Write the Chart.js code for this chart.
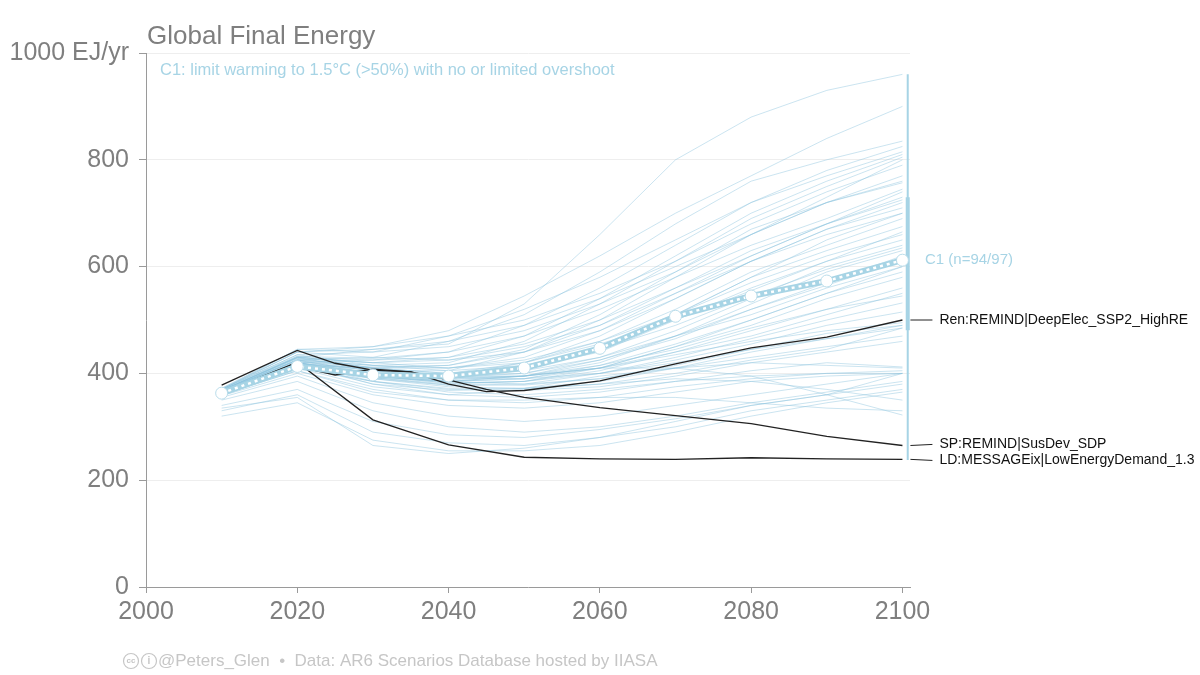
<!DOCTYPE html>
<html>
<head>
<meta charset="utf-8">
<script src="https://cdn.jsdelivr.net/npm/chart.js@4.4.1/dist/chart.umd.min.js"></script>
<style>
  html, body { margin: 0; padding: 0; background: #ffffff; }
  canvas { display: block; }
</style>
</head>
<body>
<canvas id="energyChart" width="1200" height="675"></canvas>
<script>
// decades shared by the C1 scenario lines and the median
const years = [2010, 2020, 2030, 2040, 2050, 2060, 2070, 2080, 2090, 2100];

// C1 scenarios, EJ/yr
const c1Scenarios = [
    [368, 430, 445, 455, 530, 660, 800, 880, 930, 960],
    [372, 440, 450, 480, 545, 620, 700, 770, 840, 900],
    [365, 425, 430, 460, 510, 590, 680, 760, 800, 835],
    [370, 435, 440, 470, 520, 580, 650, 720, 780, 825],
    [362, 420, 425, 440, 490, 560, 640, 720, 770, 815],
    [368, 430, 420, 430, 470, 540, 620, 700, 760, 810],
    [366, 425, 415, 420, 460, 530, 610, 690, 750, 805],
    [370, 445, 440, 450, 480, 530, 590, 660, 730, 800],
    [360, 415, 410, 415, 445, 510, 590, 670, 720, 760],
    [365, 420, 405, 405, 440, 500, 580, 660, 720, 757],
    [368, 430, 425, 430, 455, 500, 560, 620, 680, 730],
    [362, 418, 410, 410, 430, 480, 550, 620, 680, 725],
    [370, 440, 430, 425, 440, 480, 540, 610, 670, 720],
    [364, 420, 400, 395, 420, 470, 540, 610, 660, 700],
    [366, 425, 410, 400, 420, 460, 520, 590, 640, 690],
    [360, 410, 395, 390, 410, 450, 510, 580, 630, 675],
    [368, 430, 420, 410, 425, 460, 510, 570, 620, 660],
    [365, 422, 405, 398, 410, 440, 500, 560, 610, 650],
    [362, 415, 400, 392, 400, 430, 480, 540, 600, 640],
    [370, 435, 415, 405, 415, 445, 490, 545, 595, 635],
    [364, 418, 398, 388, 395, 420, 470, 530, 590, 630],
    [366, 424, 405, 395, 400, 425, 470, 520, 570, 620],
    [360, 412, 392, 385, 395, 425, 465, 520, 565, 612],
    [368, 428, 410, 400, 405, 430, 470, 510, 560, 600],
    [363, 416, 395, 385, 390, 415, 455, 500, 550, 590],
    [366, 420, 400, 390, 395, 410, 450, 490, 540, 580],
    [365, 418, 395, 382, 385, 405, 440, 480, 520, 560],
    [370, 432, 410, 395, 395, 410, 440, 470, 510, 550],
    [362, 412, 390, 378, 380, 400, 430, 465, 500, 532],
    [366, 420, 395, 382, 385, 400, 425, 455, 490, 515],
    [364, 415, 392, 378, 378, 390, 415, 445, 475, 490],
    [360, 410, 385, 372, 372, 385, 410, 440, 465, 485],
    [368, 425, 400, 385, 380, 390, 410, 430, 450, 470],
    [362, 412, 385, 370, 368, 375, 395, 420, 440, 460],
    [365, 418, 380, 360, 355, 365, 385, 405, 420, 412],
    [360, 405, 370, 350, 345, 355, 375, 390, 400, 405],
    [366, 420, 385, 365, 360, 370, 385, 395, 400, 400],
    [358, 400, 360, 340, 335, 345, 365, 385, 395, 400],
    [364, 415, 380, 368, 372, 395, 410, 420, 415, 410],
    [362, 410, 375, 360, 370, 380, 390, 385, 370, 350],
    [366, 420, 395, 385, 395, 410, 410, 395, 360, 322],
    [360, 405, 365, 350, 350, 355, 355, 345, 335, 330],
    [355, 395, 345, 320, 310, 320, 340, 360, 380, 400],
    [350, 385, 330, 300, 290, 300, 320, 345, 365, 385],
    [340, 370, 310, 285, 280, 295, 315, 340, 360, 380],
    [330, 360, 290, 270, 265, 280, 300, 330, 350, 370],
    [320, 345, 275, 255, 255, 265, 290, 320, 345, 365],
    [335, 355, 265, 250, 260, 280, 310, 340, 360, 400],
    [372, 445, 450, 470, 500, 550, 610, 680, 740, 790],
    [370, 440, 445, 460, 490, 540, 600, 660, 720, 770],
    [366, 428, 420, 425, 450, 490, 550, 610, 670, 710],
    [364, 422, 412, 415, 440, 490, 560, 630, 680, 740],
    [368, 432, 428, 440, 470, 520, 580, 640, 690, 745],
    [362, 418, 400, 395, 410, 450, 510, 580, 650, 700],
    [366, 426, 415, 410, 420, 455, 500, 555, 610, 665],
    [360, 412, 392, 380, 385, 410, 450, 500, 550, 600],
    [365, 420, 400, 392, 395, 415, 445, 485, 520, 545],
    [362, 415, 395, 385, 390, 410, 435, 460, 480, 495],
    [368, 430, 405, 392, 390, 400, 420, 445, 465, 490],
    [363, 417, 390, 375, 372, 380, 400, 425, 445, 485]
];

// C1 median
const c1Median = [363, 413, 397, 395, 410, 447, 507, 545, 573, 612];

// 2100 spread of C1 (full range and interquartile)
const c1Range = [238, 960];
const c1Iqr = [481, 730];

// illustrative pathways
const renYears = [2010, 2020, 2025, 2030, 2035, 2040, 2045, 2050, 2060, 2070, 2080, 2090, 2100];
const renValues = [363, 413, 397, 408, 403, 380, 366, 368, 386, 418, 448, 468, 500];
const spYears = [2010, 2020, 2025, 2030, 2035, 2040, 2045, 2050, 2060, 2070, 2080, 2090, 2100];
const spValues = [378, 443, 419, 406, 403, 388, 370, 355, 336, 321, 306, 282, 265];
const ldYears = [2010, 2020, 2030, 2040, 2050, 2060, 2070, 2080, 2090, 2100];
const ldValues = [363, 421, 313, 266, 243, 240, 239, 242, 240, 239];
const pathwayNames = ['Ren:REMIND|DeepElec_SSP2_HighRE', 'SP:REMIND|SusDev_SDP', 'LD:MESSAGEix|LowEnergyDemand_1.3'];

const xTicks = [2000, 2020, 2040, 2060, 2080, 2100];
const yTicks = [0, 200, 400, 600, 800, 1000];

const FONT = '"Liberation Sans", Arial, Helvetica, sans-serif';
const BLUE = '#a7d4e5';
const GREY = '#7f7f7f';

function toPoints(xs, ys) {
    return xs.map((x, i) => ({ x: x, y: ys[i] }));
}

const datasets = [];

c1Scenarios.forEach(function (s) {
    datasets.push({
        data: toPoints(years, s),
        borderColor: 'rgba(140,196,221,0.45)',
        borderWidth: 1,
        pointRadius: 0,
        order: 5
    });
});

[[renYears, renValues], [spYears, spValues], [ldYears, ldValues]].forEach(function (p) {
    datasets.push({
        data: toPoints(p[0], p[1]),
        borderColor: '#222222',
        borderWidth: 1.3,
        pointRadius: 0,
        order: 3
    });
});

// median: thick blue band with white dashes and white markers
datasets.push({
    data: toPoints(years, c1Median),
    borderColor: BLUE,
    borderWidth: 6,
    pointRadius: 0,
    order: 2
});
datasets.push({
    data: toPoints(years, c1Median),
    borderColor: '#ffffff',
    borderWidth: 2.5,
    borderDash: [3, 4],
    pointRadius: 6,
    pointBackgroundColor: '#ffffff',
    pointBorderColor: '#b9dcea',
    pointBorderWidth: 1,
    order: 1
});

// range bars beside 2100
datasets.push({
    data: [{ x: 2100.7, y: c1Range[0] }, { x: 2100.7, y: c1Range[1] }],
    borderColor: BLUE,
    borderWidth: 2,
    pointRadius: 0,
    order: 4
});
datasets.push({
    data: [{ x: 2100.7, y: c1Iqr[0] }, { x: 2100.7, y: c1Iqr[1] }],
    borderColor: BLUE,
    borderWidth: 4,
    pointRadius: 0,
    order: 4
});

const textPlugin = {
    id: 'texts',
    afterDraw(chart) {
        const ctx = chart.ctx;
        const xs = chart.scales.x;
        const ys = chart.scales.y;
        ctx.save();
        ctx.textBaseline = 'middle';

        ctx.fillStyle = GREY;
        ctx.font = '26px ' + FONT;
        ctx.textAlign = 'left';
        ctx.fillText('Global Final Energy', 147, 37);

        ctx.fillStyle = BLUE;
        ctx.font = '16.5px ' + FONT;
        ctx.fillText('C1: limit warming to 1.5°C (>50%) with no or limited overshoot', 160, 70);

        ctx.font = '15px ' + FONT;
        ctx.fillText('C1 (n=94/97)', 925, ys.getPixelForValue(c1Median[c1Median.length - 1]));

        // pathway labels with leader lines
        const ends = [renValues, spValues, ldValues].map(v => ys.getPixelForValue(v[v.length - 1]));
        const labelY = ends.slice();
        for (let i = 1; i < labelY.length; i++) {
            const gap = labelY[i] - labelY[i - 1];
            if (gap < 16) {
                const shift = (16 - gap) / 2;
                labelY[i - 1] -= shift;
                labelY[i] += shift;
            }
        }
        const x0 = xs.getPixelForValue(2100) + 8;
        ctx.strokeStyle = '#222222';
        ctx.lineWidth = 1;
        ctx.fillStyle = '#111111';
        ctx.font = '14px ' + FONT;
        pathwayNames.forEach(function (name, i) {
            ctx.beginPath();
            ctx.moveTo(x0, ends[i]);
            ctx.lineTo(x0 + 22, labelY[i]);
            ctx.stroke();
            ctx.fillText(name, x0 + 29, labelY[i]);
        });

        // footer
        ctx.strokeStyle = '#c6c6c6';
        ctx.fillStyle = '#c6c6c6';
        ctx.lineWidth = 1.2;
        [131, 149].forEach(function (cx) {
            ctx.beginPath();
            ctx.arc(cx, 661, 7.5, 0, Math.PI * 2);
            ctx.stroke();
        });
        ctx.font = 'bold 8px ' + FONT;
        ctx.textAlign = 'center';
        ctx.fillText('cc', 131, 661);
        ctx.font = 'bold 10px ' + FONT;
        ctx.fillText('i', 149, 661);
        ctx.textAlign = 'left';
        ctx.font = '17px ' + FONT;
        ctx.fillText('@Peters_Glen  \u2022  Data: AR6 Scenarios Database hosted by IIASA', 158, 661);
        ctx.restore();
    }
};

const config = {
    type: 'line',
    data: { datasets: datasets },
    options: {
        responsive: false,
        animation: false,
        devicePixelRatio: 1,
        layout: { padding: { left: 0, top: 53, right: 290, bottom: 0 } },
        elements: { line: { tension: 0 } },
        plugins: {
            legend: { display: false },
            tooltip: { enabled: false },
            title: { display: false }
        },
        scales: {
            x: {
                type: 'linear',
                min: 2000,
                max: 2101,
                afterBuildTicks: function (scale) {
                    scale.ticks = xTicks.map(v => ({ value: v }));
                },
                afterFit: function (scale) { scale.height = 88; },
                border: { color: '#9a9a9a', width: 1 },
                grid: { drawOnChartArea: false, drawTicks: true, tickLength: 6, tickColor: '#9a9a9a' },
                ticks: {
                    color: GREY,
                    font: { family: FONT, size: 25 },
                    padding: 4,
                    maxRotation: 0,
                    callback: v => String(v)
                }
            },
            y: {
                min: 0,
                max: 1000,
                afterBuildTicks: function (scale) {
                    scale.ticks = yTicks.map(v => ({ value: v }));
                },
                afterFit: function (scale) { scale.width = 146; },
                border: { color: '#9a9a9a', width: 1 },
                grid: { color: '#eeeeee', tickColor: '#9a9a9a', tickLength: 7 },
                ticks: {
                    color: GREY,
                    font: { family: FONT, size: 25 },
                    padding: 10,
                    callback: v => (v === 1000 ? '1000 EJ/yr' : String(v))
                }
            }
        }
    },
    plugins: [textPlugin]
};

const energyChart = new Chart(document.getElementById('energyChart'), config);
</script>
</body>
</html>
